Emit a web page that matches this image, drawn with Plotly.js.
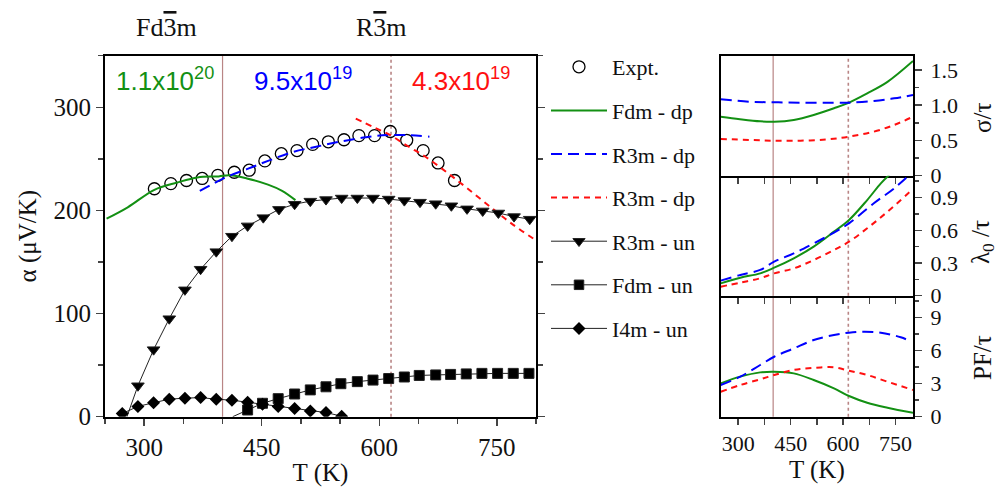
<!DOCTYPE html>
<html><head><meta charset="utf-8">
<script src="https://cdn.plot.ly/plotly-3.0.1.min.js"></script>
<style>body{margin:0;background:#fff}#chart{width:1000px;height:488px}</style>
</head><body><div id="chart"></div>
<script>
// ---- Main panel: Seebeck coefficient alpha (uV/K) vs T (K)
const exptT = [313,334,354,374,394,415,434,454,475,495,515,535,555,574,594,614,635,656,675,696];
const exptA = [221,226,229,231,234,237,239,248,255,258,264,266.5,268.5,272.5,272.5,276.5,268,258,246,229];

const fdmDpT = [252,279,313,342,368,395,409,431,458,476,493];
const fdmDpA = [192,203,220,227,232,233,234,231,225,219,210];

const r3mDpBlueT = [371,404,431,458,489,521,552,583,610,637,664];
const r3mDpBlueA = [219,232,240,248,256.5,262,267,271,273,273,271.5];

const r3mDpRedT = [570,592,614,637,659,686,713,744,771,800];
const r3mDpRedA = [289,281,273,262,252,237,221,202,186,171];

const r3mUnT = [278,292,312,332,352,372,392,412,432,452,472,492,512,532,552,572,592,612,632,652,672,692,712,732,752,772,792];
const r3mUnA = [0,30,65,95,123,143,160,175,185,193,201,206,209,210.5,212,212,212,211,209.5,208,206.5,204.5,201.5,199.5,197.5,194,191.5];

const fdmUnT = [413,432,451,471,492,512,532,551,572,592,612,632,651,672,691,711,731,751,771,791];
const fdmUnA = [0,6.5,13,17.5,22,26,29,32,34,35.5,37,38.5,40,40.5,41,41.5,42,42,42,42];

const i4mUnT = [272,292,312,332,352,372,392,412,432,451,471,492,512,532,552];
const i4mUnA = [3,10,13.5,17,18,18.5,17,16,14,12,10,8,5.5,4,0.5];

// ---- Right panels
const sigGreenT = [250,305,363,403,459,516,574,612,669,727,800];
const sigGreen  = [0.836,0.80,0.77,0.765,0.79,0.86,0.955,1.025,1.167,1.33,1.625];
const sigBlueT = [250,334,403,478,574,617,688,746,800];
const sigBlue  = [1.082,1.048,1.04,1.034,1.034,1.034,1.058,1.096,1.143];
const sigRedT = [250,334,403,478,554,617,688,746,800];
const sigRed  = [0.52,0.506,0.496,0.496,0.515,0.553,0.624,0.718,0.836];

const lamGreenT = [250,306,363,403,459,516,574,617,669,708,732];
const lamGreen  = [0.113,0.165,0.205,0.257,0.343,0.45,0.587,0.694,0.877,1.03,1.106];
const lamBlueT = [250,306,363,403,459,516,574,617,688,746,789];
const lamBlue  = [0.138,0.19,0.236,0.312,0.388,0.48,0.578,0.663,0.847,0.984,1.106];
const lamRedT = [250,306,363,403,459,516,574,617,669,727,800];
const lamRed  = [0.083,0.12,0.16,0.205,0.25,0.327,0.419,0.495,0.618,0.77,0.978];

const pfGreenT = [250,306,363,403,459,516,574,617,669,727,800];
const pfGreen  = [3.03,3.64,4.03,4.09,3.94,3.34,2.58,1.88,1.27,0.82,0.36];
const pfBlueT = [250,306,363,403,459,516,574,617,660,708,765,789];
const pfBlue  = [2.88,3.64,4.7,5.45,6.21,6.97,7.43,7.64,7.73,7.64,7.22,6.91];
const pfRedT = [250,306,363,403,459,516,574,617,669,727,800];
const pfRed  = [2.27,2.88,3.4,3.79,4.25,4.43,4.49,4.18,3.79,3.18,2.43];

const transitionT = [400, 615];
const xTickVals = [300,450,600,750];

const GREEN = '#139013', BLUE = '#0000ff', RED = '#ff1010', BROWN = '#b98585';
const SERIF = 'Liberation Serif, Times New Roman, serif';
const SANS = 'Liberation Sans, Arial, sans-serif';

const greenLine = {color: GREEN, width: 2, shape: 'spline'};
const blueLine = {color: BLUE, width: 2, dash: '11px,6px', shape: 'spline'};
const redLine = {color: RED, width: 2, dash: '6px,5px', shape: 'spline'};

function hideFirst(n, s0){ const s = new Array(n).fill(s0); s[0] = 0; return s; }

const traces = [
  {x: exptT, y: exptA, name: 'Expt.', mode: 'markers', legendgroup: 'a',
   marker: {symbol: 'circle-open', size: 12, color: '#000', line: {width: 1.3, color: '#000'}}},
  {x: fdmDpT, y: fdmDpA, name: 'Fdm - dp', mode: 'lines', legendgroup: 'b', line: greenLine},
  {x: r3mDpBlueT, y: r3mDpBlueA, name: 'R3m - dp', mode: 'lines', legendgroup: 'c', line: blueLine},
  {x: r3mDpRedT, y: r3mDpRedA, name: 'R3m - dp', mode: 'lines', legendgroup: 'd', line: redLine},
  {x: r3mUnT, y: r3mUnA, name: 'R3m - un', mode: 'lines+markers', legendgroup: 'e',
   line: {color: '#222', width: 1}, marker: {symbol: 'triangle-down', size: hideFirst(r3mUnT.length, 11), opacity: 1, color: '#000'}},
  {x: fdmUnT, y: fdmUnA, name: 'Fdm - un', mode: 'lines+markers', legendgroup: 'f',
   line: {color: '#222', width: 1}, marker: {symbol: 'square', size: hideFirst(fdmUnT.length, 10), opacity: 1, color: '#000'}},
  {x: i4mUnT, y: i4mUnA, name: 'I4m - un', mode: 'lines+markers', legendgroup: 'g',
   line: {color: '#222', width: 1}, marker: {symbol: 'diamond', size: 10, opacity: 1, color: '#000'}},
  // right panels
  {x: sigGreenT, y: sigGreen, xaxis: 'x2', yaxis: 'y2', mode: 'lines', line: greenLine, showlegend: false},
  {x: sigBlueT, y: sigBlue, xaxis: 'x2', yaxis: 'y2', mode: 'lines', line: blueLine, showlegend: false},
  {x: sigRedT, y: sigRed, xaxis: 'x2', yaxis: 'y2', mode: 'lines', line: redLine, showlegend: false},
  {x: lamGreenT, y: lamGreen, xaxis: 'x3', yaxis: 'y3', mode: 'lines', line: greenLine, showlegend: false},
  {x: lamBlueT, y: lamBlue, xaxis: 'x3', yaxis: 'y3', mode: 'lines', line: blueLine, showlegend: false},
  {x: lamRedT, y: lamRed, xaxis: 'x3', yaxis: 'y3', mode: 'lines', line: redLine, showlegend: false},
  {x: pfGreenT, y: pfGreen, xaxis: 'x4', yaxis: 'y4', mode: 'lines', line: greenLine, showlegend: false},
  {x: pfBlueT, y: pfBlue, xaxis: 'x4', yaxis: 'y4', mode: 'lines', line: blueLine, showlegend: false},
  {x: pfRedT, y: pfRed, xaxis: 'x4', yaxis: 'y4', mode: 'lines', line: redLine, showlegend: false}
];

const H = 488, W = 1000;
const py = v => 1 - v / H, px = v => v / W;
const mainX = [px(105), px(536)], mainY = [py(416.7), py(55.7)];
const rX = [px(720.7), px(913)];
const r1 = [py(175.7), py(55.7)], r2 = [py(295.7), py(175.7)], r3 = [py(416.7), py(295.7)];

const tickFontMain = {family: SERIF, size: 25, color: '#111'};
const tickFontR = {family: SERIF, size: 22, color: '#111'};

function rx(anchor, labels, mirror){
  return {domain: rX, anchor: anchor, range: [250, 800], showline: true, linewidth: 2, linecolor: '#000',
    mirror: mirror, ticks: 'outside', ticklen: 6, tickwidth: 1.5, tickvals: xTickVals,
    showticklabels: labels, tickfont: tickFontR, showgrid: false, zeroline: false,
    minor: {dtick: 75, tick0: 300, ticks: 'outside', ticklen: 6, tickwidth: 1.5, showgrid: false}};
}
function ry(anchor, dom, range, vals, texts, minorDt){
  return {domain: dom, anchor: anchor, side: 'right', range: range, showline: true, linewidth: 2,
    linecolor: '#000', mirror: true, ticks: 'outside', ticklen: 7, tickwidth: 1.5,
    tickvals: vals, ticktext: texts, tickfont: tickFontR, showgrid: false, zeroline: false,
    ticklabelstandoff: 4,
    minor: {dtick: minorDt, tick0: 0, ticks: 'outside', ticklen: 4, tickwidth: 1.5, showgrid: false}};
}
const titleFont = {family: SERIF, size: 25, color: '#111'};
function note(text, x, y, font, extra){
  return Object.assign({text: text, xref: 'paper', yref: 'paper', x: px(x), y: py(y),
    xanchor: 'center', yanchor: 'middle', showarrow: false, font: font}, extra || {});
}

const layout = {
  width: W, height: H, margin: {l: 0, r: 0, t: 0, b: 0},
  paper_bgcolor: '#fff', plot_bgcolor: 'rgba(0,0,0,0)',
  font: {family: SERIF, color: '#111'},
  showlegend: true,
  legend: {x: 0.546, y: py(46), xanchor: 'left', yanchor: 'top', font: {family: SERIF, size: 22, color: '#111'},
    tracegroupgap: 12, bgcolor: 'rgba(0,0,0,0)', itemwidth: 56},
  xaxis: {domain: mainX, anchor: 'y', range: [250, 800], showline: true, linewidth: 2, linecolor: '#000',
    mirror: true, ticks: 'outside', ticklen: 7, tickwidth: 1.5, tickvals: xTickVals, tickfont: tickFontMain,
    showgrid: false, zeroline: false,
    minor: {dtick: 50, tick0: 300, ticks: 'outside', ticklen: 5, tickwidth: 1.5, showgrid: false},
    title: {text: 'T (K)', font: titleFont, standoff: 4}},
  yaxis: {domain: mainY, anchor: 'x', range: [0, 350], showline: true, linewidth: 2, linecolor: '#000',
    mirror: 'ticks', ticks: 'outside', ticklen: 7, tickwidth: 1.5, dtick: 100, tick0: 0, tickfont: tickFontMain,
    showgrid: false, zeroline: false,
    minor: {dtick: 50, tick0: 0, ticks: 'outside', ticklen: 5, tickwidth: 1.5, showgrid: false},
    title: {text: 'α (μV/K)', font: titleFont, standoff: 10}},
  xaxis2: rx('y2', false, true),
  xaxis3: rx('y3', false, false),
  xaxis4: Object.assign(rx('y4', true, false), {title: {text: 'T (K)', font: titleFont, standoff: 2}}),
  yaxis2: ry('x2', r1, [0, 1.7], [0, 0.5, 1.0, 1.5], ['0', '0.5', '1.0', '1.5'], 0.25),
  yaxis3: ry('x3', r2, [0, 1.1], [0, 0.3, 0.6, 0.9], ['0', '0.3', '0.6', '0.9'], 0.15),
  yaxis4: ry('x4', r3, [0, 11], [0, 3, 6, 9], ['0', '3', '6', '9'], 1.5),
  shapes: [],
  annotations: [
    note('Fd<span style="text-decoration:overline">3</span>m', 166, 28, {family: SERIF, size: 26, color: '#111'}),
    note('R<span style="text-decoration:overline">3</span>m', 381, 28, {family: SERIF, size: 26, color: '#111'}),
    note('1.1x10<sup>20</sup>', 114, 80, {family: SANS, size: 26, color: GREEN}, {xanchor: 'left'}),
    note('9.5x10<sup>19</sup>', 252, 80, {family: SANS, size: 26, color: BLUE}, {xanchor: 'left'}),
    note('4.3x10<sup>19</sup>', 410, 80, {family: SANS, size: 26, color: RED}, {xanchor: 'left'}),
    note('σ/τ', 982, 118, titleFont, {textangle: -90}),
    note('λ<sub>0</sub> /τ', 982, 242, titleFont, {textangle: -90}),
    note('PF/τ', 982, 358, titleFont, {textangle: -90})
  ]
};

// transition lines (solid at first, dotted at second) in all panels
[['x', 'y domain'], ['x2', 'y2 domain'], ['x3', 'y3 domain'], ['x4', 'y4 domain']].forEach(([xr, yr]) => {
  transitionT.forEach((t, i) => {
    layout.shapes.push({type: 'line', xref: xr, yref: yr, x0: t, x1: t, y0: 0, y1: 1, layer: 'below',
      line: {color: BROWN, width: i === 0 ? 1.2 : 1.6, dash: i === 0 ? 'solid' : 'dot'}});
  });
});

Plotly.newPlot('chart', traces, layout, {displayModeBar: false, staticPlot: true});
</script>
</body></html>
